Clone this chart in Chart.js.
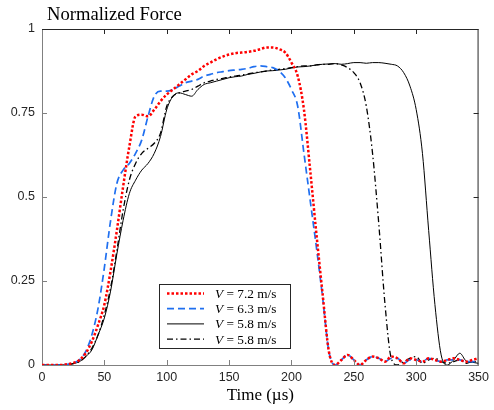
<!DOCTYPE html>
<html>
<head>
<meta charset="utf-8">
<script src="https://cdn.jsdelivr.net/npm/chart.js@4.4.1/dist/chart.umd.min.js"></script>
<style>
  html, body { margin: 0; padding: 0; background: #fff; }
</style>
</head>
<body>
<canvas id="force" width="494" height="410"></canvas>
<script>
// time axis (µs), shared by every curve
const times = [
  0, 5, 10, 15, 20, 25, 30, 35, 40, 45, 50, 55, 60, 65, 70, 75, 80, 85, 90, 95,
  100, 105, 110, 115, 120, 125, 130, 135, 140, 145, 150, 155, 160, 165, 170, 175, 180, 185, 190, 195,
  200, 205, 210, 215, 220, 225, 230, 235, 240, 245, 250, 255, 260, 265, 270, 275, 280, 285, 290, 295,
  300, 305, 310, 315, 320, 325, 330, 335, 340, 345, 350
];

const speeds = ['7.2', '6.3', '5.8', '5.8'];

// normalized force
const force72 = [
  0, 0, 0, 0, 0.002, 0.006, 0.015, 0.035, 0.07, 0.12, 0.18, 0.28, 0.40, 0.53, 0.65, 0.74, 0.745, 0.74, 0.76, 0.785,
  0.805, 0.82, 0.835, 0.85, 0.865, 0.875, 0.89, 0.90, 0.91, 0.918, 0.924, 0.928, 0.93, 0.932, 0.935, 0.94, 0.945, 0.945, 0.94, 0.93,
  0.90, 0.86, 0.76, 0.58, 0.39, 0.21, 0.04, 0.0, 0.015, 0.03, 0.015, 0.0, 0.015, 0.025, 0.02, 0.01, 0.025, 0.02, 0.005, 0.02,
  0.015, 0.01, 0.02, 0.015, 0.01, 0.015, 0.02, 0.015, 0.01, 0.015, 0.02
];

const force63 = [
  0, 0, 0, 0, 0.002, 0.006, 0.015, 0.04, 0.09, 0.17, 0.29, 0.43, 0.54, 0.58, 0.60, 0.63, 0.67, 0.74, 0.80, 0.815,
  0.815, 0.82, 0.83, 0.84, 0.845, 0.85, 0.86, 0.865, 0.87, 0.873, 0.876, 0.878, 0.88, 0.883, 0.888, 0.89, 0.888, 0.885, 0.875, 0.855,
  0.82, 0.77, 0.63, 0.49, 0.35, 0.20, 0.04, 0.0, 0.015, 0.03, 0.015, 0.0, 0.015, 0.025, 0.02, 0.01, 0.02, 0.02, 0.005, 0.015,
  0.015, 0.01, 0.02, 0.015, 0.01, 0.015, 0.015, 0.015, 0.01, 0.01, 0.01
];

const force58 = [
  0, 0, 0, 0, 0.001, 0.004, 0.01, 0.025, 0.045, 0.09, 0.14, 0.22, 0.33, 0.43, 0.51, 0.55, 0.58, 0.60, 0.63, 0.68,
  0.76, 0.80, 0.81, 0.805, 0.80, 0.82, 0.835, 0.84, 0.845, 0.85, 0.855, 0.858, 0.86, 0.865, 0.868, 0.872, 0.875, 0.876, 0.878, 0.88,
  0.884, 0.887, 0.888, 0.89, 0.893, 0.895, 0.896, 0.897, 0.895, 0.897, 0.90, 0.90, 0.898, 0.90, 0.90, 0.898, 0.895, 0.89, 0.87, 0.83,
  0.76, 0.63, 0.40, 0.18, 0.03, 0.0, 0.015, 0.035, 0.012, 0.008, 0.005
];

const force58b = [
  0, 0, 0, 0, 0.001, 0.004, 0.01, 0.025, 0.05, 0.09, 0.15, 0.23, 0.34, 0.46, 0.55, 0.60, 0.63, 0.645, 0.66, 0.69,
  0.77, 0.80, 0.81, 0.815, 0.82, 0.83, 0.84, 0.845, 0.85, 0.853, 0.857, 0.86, 0.863, 0.866, 0.87, 0.872, 0.875, 0.878, 0.88, 0.882,
  0.885, 0.888, 0.89, 0.89, 0.893, 0.895, 0.895, 0.897, 0.893, 0.885, 0.87, 0.84, 0.77, 0.63, 0.42, 0.18, 0.02, 0.0, 0.01, 0.02,
  0.025, 0.005, 0.015, 0.02, 0.01, 0.005, 0.01, 0.015, 0.005, 0.01, 0.01
];

const xTicks = [0, 50, 100, 150, 200, 250, 300, 350];
const yTicks = [0, 0.25, 0.5, 0.75, 1];

function pts(vals) {
  return times.map((t, i) => ({ x: t, y: vals[i] }));
}

const serif = '"Liberation Serif", "Times New Roman", serif';
const sans = '"Liberation Sans", Arial, sans-serif';

// top/right box edges and inward ticks, MATLAB style
const frame = {
  id: 'frame',
  afterDraw(chart) {
    const { ctx, chartArea: a, scales } = chart;
    ctx.save();
    ctx.lineWidth = 1;
    ctx.strokeStyle = '#262626';
    ctx.beginPath();
    ctx.moveTo(a.left, a.top + 0.5);
    ctx.lineTo(a.right, a.top + 0.5);
    ctx.moveTo(a.right - 0.5, a.top);
    ctx.lineTo(a.right - 0.5, a.bottom);
    ctx.stroke();

    const tl = 5;
    xTicks.slice(1, -1).forEach((v) => {
      const px = Math.round(scales.x.getPixelForValue(v)) + 0.5;
      ctx.strokeStyle = '#808080';
      ctx.beginPath();
      ctx.moveTo(px, a.bottom);
      ctx.lineTo(px, a.bottom - tl);
      ctx.stroke();
      ctx.strokeStyle = '#262626';
      ctx.beginPath();
      ctx.moveTo(px, a.top);
      ctx.lineTo(px, a.top + tl);
      ctx.stroke();
    });
    yTicks.slice(1, -1).forEach((v) => {
      const py = Math.round(scales.y.getPixelForValue(v)) + 0.5;
      ctx.strokeStyle = '#808080';
      ctx.beginPath();
      ctx.moveTo(a.left, py);
      ctx.lineTo(a.left + tl, py);
      ctx.stroke();
      ctx.strokeStyle = '#262626';
      ctx.beginPath();
      ctx.moveTo(a.right, py);
      ctx.lineTo(a.right - tl, py);
      ctx.stroke();
    });

    ctx.fillStyle = '#000';
    ctx.font = '18.6px ' + serif;
    ctx.textBaseline = 'alphabetic';
    ctx.textAlign = 'left';
    ctx.fillText('Normalized Force', 47, 20);
    ctx.restore();
  }
};

// boxed legend inside the plot, lower middle
const legendBox = {
  id: 'legendBox',
  afterDatasetsDraw(chart) {
    const ctx = chart.ctx;
    const left = 159.5, top = 284.5, w = 131, h = 64;
    ctx.save();
    ctx.fillStyle = '#fff';
    ctx.fillRect(left, top, w, h);
    ctx.strokeStyle = '#262626';
    ctx.lineWidth = 1;
    ctx.strokeRect(left, top, w, h);
    chart.data.datasets.forEach((ds, i) => {
      const yy = 293.5 + i * 15.2;
      ctx.beginPath();
      ctx.setLineDash(ds.borderDash || []);
      ctx.lineWidth = ds.borderWidth;
      ctx.strokeStyle = ds.borderColor;
      ctx.moveTo(167, yy);
      ctx.lineTo(204, yy);
      ctx.stroke();
      ctx.setLineDash([]);
      ctx.fillStyle = '#000';
      ctx.textBaseline = 'middle';
      ctx.font = 'italic 13.3px ' + serif;
      ctx.fillText('V', 215, yy + 1);
      const vw = ctx.measureText('V').width;
      ctx.font = '13.3px ' + serif;
      ctx.fillText(' = ' + speeds[i] + ' m/s', 215 + vw, yy + 1);
    });
    ctx.restore();
  }
};

const common = {
  pointRadius: 0,
  fill: false,
  cubicInterpolationMode: 'monotone',
};

new Chart(document.getElementById('force'), {
  type: 'line',
  data: {
    datasets: [
      { ...common, label: 'V = 7.2 m/s', data: pts(force72), borderColor: '#ff0000', borderWidth: 2.5, borderDash: [2.5, 2] },
      { ...common, label: 'V = 6.3 m/s', data: pts(force63), borderColor: '#1f6ff0', borderWidth: 1.7, borderDash: [7, 4] },
      { ...common, label: 'V = 5.8 m/s', data: pts(force58), borderColor: '#000000', borderWidth: 1 },
      { ...common, label: 'V = 5.8 m/s', data: pts(force58b), borderColor: '#000000', borderWidth: 1.3, borderDash: [6, 3, 1.5, 3] },
    ],
  },
  options: {
    responsive: false,
    animation: false,
    layout: { padding: { top: 29, right: 11, left: 0, bottom: 0 } },
    plugins: { legend: { display: false }, tooltip: { enabled: false } },
    scales: {
      x: {
        type: 'linear',
        min: 0,
        max: 350,
        afterFit: (s) => { s.height = 45; },
        afterBuildTicks: (s) => { s.ticks = xTicks.map((v) => ({ value: v })); },
        grid: { drawOnChartArea: false, drawTicks: false },
        border: { color: '#808080' },
        ticks: { color: '#262626', font: { family: sans, size: 12.5 }, padding: 5, maxRotation: 0, callback: (v) => String(v) },
        title: { display: true, text: 'Time (µs)', color: '#000', font: { family: serif, size: 17 }, padding: { top: 0, bottom: 4 } },
      },
      y: {
        min: 0,
        max: 1,
        afterFit: (s) => { s.width = 42; },
        afterBuildTicks: (s) => { s.ticks = yTicks.map((v) => ({ value: v })); },
        grid: { drawOnChartArea: false, drawTicks: false },
        border: { color: '#808080' },
        ticks: { color: '#262626', font: { family: sans, size: 12.5 }, padding: 7, callback: (v) => String(v) },
      },
    },
  },
  plugins: [frame, legendBox],
});
</script>
</body>
</html>
